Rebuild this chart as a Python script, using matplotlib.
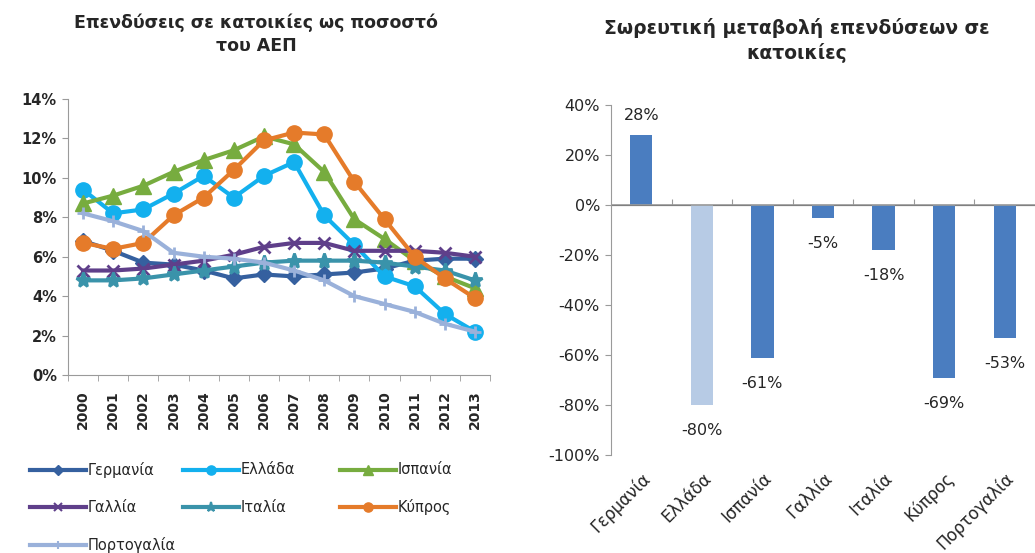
import matplotlib
matplotlib.use("Agg")
import matplotlib.pyplot as plt
from matplotlib.ticker import FuncFormatter, FixedLocator
from matplotlib.lines import Line2D
import numpy as np

plt.rcParams['font.family'] = ['DejaVu Sans']

years = [str(y) for y in range(2000, 2014)]

germany = [6.8, 6.3, 5.7, 5.6, 5.3, 4.9, 5.1, 5.0, 5.1, 5.2, 5.4, 5.8, 5.9, 5.9]
greece = [9.4, 8.2, 8.4, 9.2, 10.1, 9.0, 10.1, 10.8, 8.1, 6.6, 5.0, 4.5, 3.1, 2.2]
spain = [8.7, 9.1, 9.6, 10.3, 10.9, 11.4, 12.1, 11.7, 10.3, 7.9, 6.9, 5.8, 5.0, 4.4]
france = [5.3, 5.3, 5.4, 5.6, 5.8, 6.1, 6.5, 6.7, 6.7, 6.3, 6.3, 6.3, 6.2, 6.0]
italy = [4.8, 4.8, 4.9, 5.1, 5.3, 5.5, 5.7, 5.8, 5.8, 5.8, 5.7, 5.5, 5.3, 4.8]
cyprus = [6.7, 6.4, 6.7, 8.1, 9.0, 10.4, 11.9, 12.3, 12.2, 9.8, 7.9, 6.0, 4.9, 3.9]
portugal = [8.2, 7.8, 7.3, 6.2, 6.0, 5.9, 5.7, 5.3, 4.8, 4.0, 3.6, 3.2, 2.6, 2.2]

countries = ['Γερμανία', 'Ελλάδα', 'Ισπανία', 'Γαλλία', 'Ιταλία', 'Κύπρος', 'Πορτογαλία']
cum_change = [28, -80, -61, -5, -18, -69, -53]
bar_labels = ['28%', '-80%', '-61%', '-5%', '-18%', '-69%', '-53%']

TXT = '#262626'
AXC = '#9a9a9a'

fig = plt.figure(figsize=(10.35, 5.53), dpi=100)

# ---- Left chart ----
ax1 = fig.add_axes([68/1035, 1-375/553, (490-68)/1035, (375-99)/553])
x = np.arange(len(years))
series = [
    ('Γερμανία', germany, '#35609F', 'D', 8),
    ('Ελλάδα', greece, '#13B0EE', 'o', 11),
    ('Ισπανία', spain, '#77AC3F', '^', 11),
    ('Γαλλία', france, '#5F3F8A', 'x', 9),
    ('Ιταλία', italy, '#3A93AA', '*', 11),
    ('Κύπρος', cyprus, '#E57B2A', 'o', 11),
    ('Πορτογαλία', portugal, '#9AB1DA', '+', 9),
]
order = [6, 4, 3, 0, 1, 2, 5]
for i in order:
    name, vals, col, mk, ms = series[i]
    mew = 2 if mk in ('x', '+', '*') else 1
    ax1.plot(x, vals, color=col, lw=3, marker=mk, ms=ms, mew=mew,
             mec=col, mfc=col, label=name, zorder=3 + i)
ax1.set_xlim(-0.5, len(years) - 0.5)
ax1.set_ylim(0, 14)
ax1.set_yticks(np.arange(0, 15, 2))
ax1.yaxis.set_major_formatter(FuncFormatter(lambda v, p: f'{v:.0f}%'))
ax1.set_xticks(x)
ax1.set_xticklabels(years, rotation=90, fontsize=10, fontweight='bold', color=TXT)
ax1.xaxis.set_minor_locator(FixedLocator(np.arange(-0.5, len(years), 1)))
ax1.tick_params(axis='x', which='major', length=0, pad=11)
ax1.tick_params(axis='x', which='minor', length=4, color=AXC)
ax1.tick_params(axis='y', labelsize=10.5, colors=TXT, length=4, color=AXC, pad=4)
for lab in ax1.get_yticklabels():
    lab.set_fontweight('bold')
for s in ['top', 'right']:
    ax1.spines[s].set_visible(False)
for s in ['left', 'bottom']:
    ax1.spines[s].set_color(AXC)
fig.text(256/1035, 1-23/553, 'Επενδύσεις σε κατοικίες ως ποσοστό',
         ha='center', va='center', fontsize=12.5, fontweight='bold', color=TXT)
fig.text(256/1035, 1-46/553, 'του ΑΕΠ',
         ha='center', va='center', fontsize=12.5, fontweight='bold', color=TXT)

# ---- Legend (Excel-style fixed columns) ----
lg = fig.add_axes([0, 0, 1, 1], zorder=-1)
lg.set_xlim(0, 1035)
lg.set_ylim(553, 0)
lg.axis('off')
legend_pos = {0: (30, 470), 1: (183, 470), 2: (340, 470),
              3: (30, 507), 4: (183, 507), 5: (340, 507), 6: (30, 545)}
for i, (name, vals, col, mk, ms) in enumerate(series):
    x0, y0 = legend_pos[i]
    mew = 1.5 if mk in ('x', '+', '*') else 1
    lg.add_line(Line2D([x0, x0 + 56], [y0, y0], color=col, lw=3))
    lg.add_line(Line2D([x0 + 28], [y0], color=col, marker=mk, ms=ms * 0.6,
                       mec=col, mfc=col, mew=mew, lw=0))
    lg.text(x0 + 58, y0, name, ha='left', va='center', fontsize=10.5, color=TXT)

# ---- Right chart ----
ax2 = fig.add_axes([611/1035, 1-455/553, (1035-611)/1035, (455-105)/553])
xb = np.arange(len(countries))
colors = ['#4A7DC0' if c != 'Ελλάδα' else '#B7CBE5' for c in countries]
ax2.bar(xb, cum_change, width=0.37, color=colors, zorder=3)
ax2.set_xlim(-0.5, len(countries) - 0.5)
ax2.set_ylim(-100, 40)
ax2.set_yticks(np.arange(-100, 41, 20))
ax2.yaxis.set_major_formatter(FuncFormatter(lambda v, p: f'{v:.0f}%'))
ax2.tick_params(axis='y', labelsize=11.5, colors=TXT, length=4, color=AXC, pad=4)
ax2.set_xticks(xb)
ax2.set_xticklabels(countries, rotation=45, ha='right', rotation_mode='anchor',
                    fontsize=12, color=TXT)
ax2.tick_params(axis='x', length=0, pad=10)
for s in ['top', 'right', 'bottom']:
    ax2.spines[s].set_visible(False)
ax2.spines['left'].set_color(AXC)
ax2.axhline(0, color=AXC, lw=1.2, zorder=4)
sec = ax2.secondary_xaxis(100/140)
sec.set_xticks(np.arange(0.5, len(countries) - 0.5, 1))
sec.set_xticklabels([])
sec.tick_params(axis='x', length=4, color=AXC, direction='out')
sec.spines['bottom'].set_visible(False)
for xi, v, lab in zip(xb, cum_change, bar_labels):
    if v >= 0:
        ax2.annotate(lab, (xi, v), xytext=(0, 9), textcoords='offset points',
                     ha='center', va='bottom', fontsize=11.5, color=TXT)
    else:
        ax2.annotate(lab, (xi, v), xytext=(0, -13), textcoords='offset points',
                     ha='center', va='top', fontsize=11.5, color=TXT)
fig.text(797/1035, 1-28/553, 'Σωρευτική μεταβολή επενδύσεων σε',
         ha='center', va='center', fontsize=13.5, fontweight='bold', color=TXT)
fig.text(797/1035, 1-53/553, 'κατοικίες',
         ha='center', va='center', fontsize=13.5, fontweight='bold', color=TXT)

fig.savefig('out.png', dpi=100)
